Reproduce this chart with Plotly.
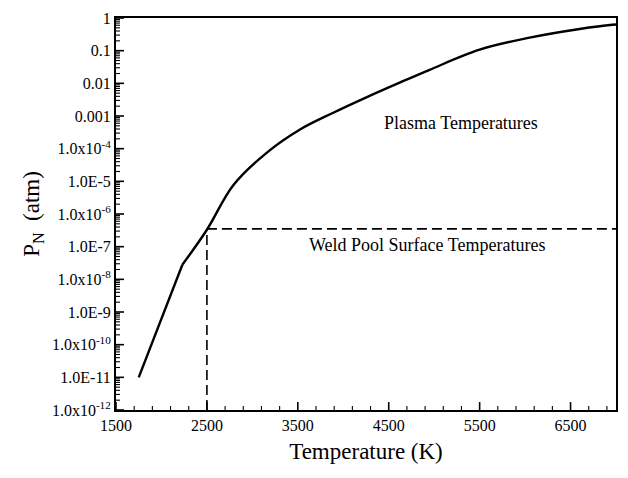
import math
import plotly.graph_objects as go

# Data
lower_T = [1750, 2000, 2230]
lower_P = [1.0e-11, 5.8e-10, 2.8e-8]
upper_T = [2230, 2500, 2790, 3160, 3520, 3890, 4260, 4620, 4950, 5500, 6050, 6600, 6960, 7000]
upper_P = [2.8e-8, 3.3e-7, 7.6e-6, 7.6e-5, 3.8e-4, 1.26e-3, 3.8e-3, 1.05e-2,
           2.6e-2, 0.107, 0.25, 0.46, 0.62, 0.63]

weld_T = 2500
weld_P = 3.5e-7
x_min, x_max = 1500, 7000
y_min, y_max = 1e-12, 1

x_tickvals = [1500, 2500, 3500, 4500, 5500, 6500]
x_minor_step = 200
y_tickvals = [1, 0.1, 0.01, 0.001, 1e-4, 1e-5, 1e-6, 1e-7, 1e-8, 1e-9, 1e-10, 1e-11, 1e-12]
y_ticktext = ["1", "0.1", "0.01", "0.001", "1.0x10<sup>-4</sup>", "1.0E-5", "1.0x10<sup>-6</sup>",
              "1.0E-7", "1.0x10<sup>-8</sup>", "1.0E-9", "1.0x10<sup>-10</sup>", "1.0E-11",
              "1.0x10<sup>-12</sup>"]

FONT = "Liberation Serif, Times New Roman, serif"

# plot area size in pixels (for converting tick lengths)
W, H = 628, 478
ML, MR, MT, MB = 116, 10, 14, 68
px_per_K = (W - ML - MR) / (x_max - x_min)
px_per_decade = (H - MT - MB) / (math.log10(y_max) - math.log10(y_min))

fig = go.Figure()
fig.add_trace(go.Scatter(x=lower_T, y=lower_P, mode="lines",
                         line=dict(color="black", width=2.4), showlegend=False))
fig.add_trace(go.Scatter(x=upper_T, y=upper_P, mode="lines",
                         line=dict(color="black", width=2.4, shape="spline", smoothing=1.0),
                         showlegend=False))
fig.add_trace(go.Scatter(x=[weld_T, x_max], y=[weld_P, weld_P], mode="lines",
                         line=dict(color="black", width=1.6, dash="10px,5px"), showlegend=False))
fig.add_trace(go.Scatter(x=[weld_T, weld_T], y=[y_min, weld_P], mode="lines",
                         line=dict(color="black", width=1.6, dash="10px,5px"), showlegend=False))

fig.add_annotation(x=5290, y=-3.2, text="Plasma Temperatures", showarrow=False,
                   font=dict(family=FONT, size=18, color="black"))
fig.add_annotation(x=4920, y=-6.95, text="Weld Pool Surface Temperatures", showarrow=False,
                   font=dict(family=FONT, size=18, color="black"))

# Inside tick marks along the bottom and left axes, built from the tick arrays
def tick_segments(length_px, major):
    xs, ys = [], []
    v = x_min
    while v < x_max:
        if (v in x_tickvals) == major:
            xs += [v, v, None]
            ys += [y_min, y_min * 10 ** (length_px / px_per_decade), None]
        v += x_minor_step
    dx = length_px / px_per_K
    for t in y_tickvals:
        vals = [t] if major else ([t * m for m in range(2, 10)] if t < y_max else [])
        for yv in vals:
            xs += [x_min, x_min + dx, None]
            ys += [yv, yv, None]
    return xs, ys

mx, my = tick_segments(8, True)
nx, ny = tick_segments(4, False)
fig.add_trace(go.Scatter(x=mx, y=my, mode="lines", line=dict(color="black", width=1.6),
                         showlegend=False, hoverinfo="skip"))
fig.add_trace(go.Scatter(x=nx, y=ny, mode="lines", line=dict(color="black", width=1.1),
                         showlegend=False, hoverinfo="skip"))

fig.update_layout(
    width=W, height=H,
    margin=dict(l=ML, r=MR, t=MT, b=MB),
    paper_bgcolor="white", plot_bgcolor="white",
    font=dict(family=FONT, size=16, color="black"),
    xaxis=dict(
        range=[x_min, x_max], tickmode="array", tickvals=x_tickvals,
        ticks="", showline=True, linecolor="black", linewidth=2, mirror=True,
        showgrid=False, zeroline=False,
        title=dict(text="Temperature (K)", font=dict(family=FONT, size=23), standoff=10),
        tickfont=dict(family=FONT, size=16),
    ),
    yaxis=dict(
        type="log", range=[-12, 0], tickmode="array", tickvals=y_tickvals, ticktext=y_ticktext,
        ticks="", showline=True, linecolor="black", linewidth=2, mirror=True,
        showgrid=False, zeroline=False,
        title=dict(text="P<sub>N</sub>  (atm)", font=dict(family=FONT, size=23), standoff=6),
        tickfont=dict(family=FONT, size=16),
    ),
)

fig.write_html("out.html")
